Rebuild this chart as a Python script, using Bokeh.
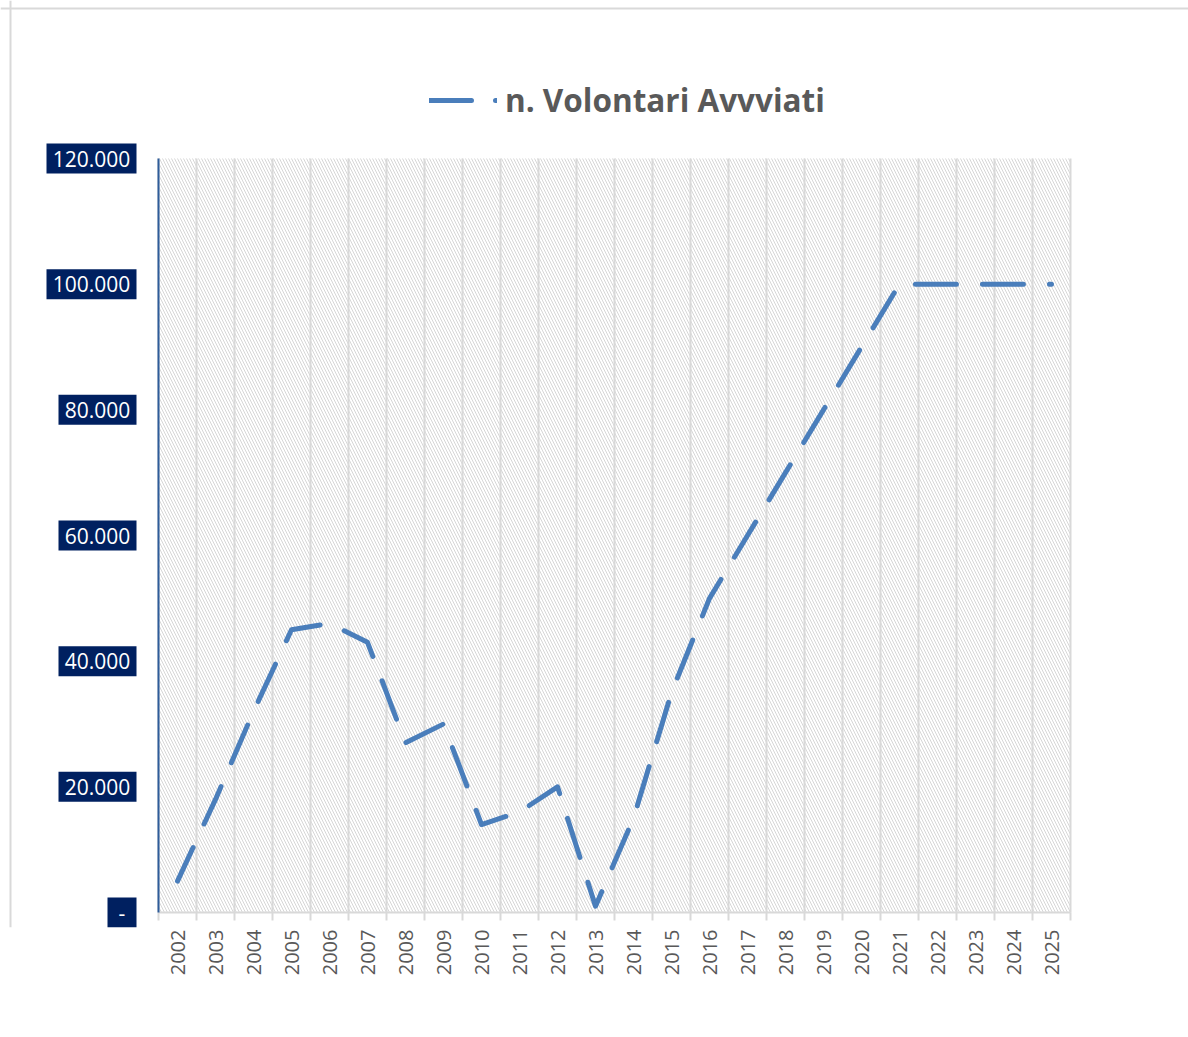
import math
from bokeh.plotting import figure
from bokeh.models import (Range1d, FixedTicker, BoxAnnotation, Legend,
                          LegendItem, Span)
from bokeh.core.properties import value
from bokeh.embed import file_html
from bokeh.resources import INLINE

# ---------------- data ----------------
years = ["2002", "2003", "2004", "2005", "2006", "2007", "2008", "2009", "2010",
         "2011", "2012", "2013", "2014", "2015", "2016", "2017", "2018", "2019",
         "2020", "2021", "2022", "2023", "2024", "2025"]
volontari = [5000, 18000, 32000, 45000, 46000, 43000, 27000, 30000, 14000,
             16000, 20000, 1000, 15000, 35000, 50000, 60000, 70000, 80000,
             90000, 100000, 100000, 100000, 100000, 100000]
y_ticks = [0, 20000, 40000, 60000, 80000, 100000, 120000]
y_tick_labels = ["-", "20.000", "40.000", "60.000", "80.000", "100.000", "120.000"]
series_name = "n. Volontari Avvviati"

# ---------------- layout constants (pixels) ----------------
W, H = 1188, 1037
PLOT_L, PLOT_R, PLOT_T, PLOT_B = 158, 1070, 158, 912
FRAME_B = 927                                   # frame extends a bit below the axis
n = len(years)
px_x = (PLOT_R - PLOT_L) / n                   # pixels per category
y_max = y_ticks[-1]
px_y = (PLOT_B - PLOT_T) / y_max               # pixels per unit
x_start = -PLOT_L / px_x
x_end = n + (W - PLOT_R) / px_x
y_start = -(FRAME_B - PLOT_B) / px_y
y_end = PLOT_B / px_y

xs = [i + 0.5 for i in range(n)]
bounds_x = list(range(n + 1))

p = figure(width=W, height=H, output_backend="svg", toolbar_location=None,
           x_range=Range1d(x_start, x_end), y_range=Range1d(y_start, y_end),
           y_axis_location=None,
           min_border_left=0, min_border_right=0, min_border_top=0,
           min_border_bottom=H - FRAME_B)
p.outline_line_color = None
p.background_fill_color = "white"
p.border_fill_color = "white"
p.xgrid.visible = False
p.ygrid.visible = False

# chart outer border (top / left)
p.add_layout(Span(location=x_start + 10 / px_x, dimension="height",
                  line_color="#D9D9D9", line_width=2))
p.add_layout(Span(location=y_end - 8 / px_y, dimension="width",
                  line_color="#D9D9D9", line_width=2))

# hatched plot area
hatch = BoxAnnotation(left=0, right=n, bottom=0, top=y_max, level="image",
                      fill_color=None, line_color=None,
                      hatch_pattern="\\", hatch_color="#D6D6D6",
                      hatch_scale=6, hatch_weight=1)
p.add_layout(hatch)

# vertical grid lines at category boundaries
p.segment(x0=bounds_x, y0=[0] * len(bounds_x), x1=bounds_x, y1=[y_max] * len(bounds_x),
          line_color="#D9D9D9", line_width=2)

# category axis line and boundary ticks (at y = 0)
p.segment(x0=[0], y0=[0], x1=[n], y1=[0], line_color="#D9D9D9", line_width=2)
p.segment(x0=bounds_x, y0=[0] * len(bounds_x), x1=bounds_x,
          y1=[-8 / px_y] * len(bounds_x), line_color="#D9D9D9", line_width=2)

# x axis: year labels only
p.xaxis.ticker = FixedTicker(ticks=xs)
p.xaxis.major_label_overrides = {x: y for x, y in zip(xs, years)}
p.xaxis.axis_line_color = None
p.xaxis.major_tick_line_color = None
p.xaxis.minor_tick_line_color = None
p.xaxis.major_tick_out = 0
p.xaxis.major_tick_in = 0
p.xaxis.major_label_orientation = math.pi / 2
p.xaxis.major_label_text_font = "Open Sans"
p.xaxis.major_label_text_font_size = "20px"
p.xaxis.major_label_text_color = "#595959"
p.xaxis.major_label_standoff = 2

# value axis line
p.segment(x0=[0], y0=[0], x1=[0], y1=[y_max], line_color="#2E5C9A", line_width=2)

# y tick labels as navy boxes
box_right = (136 - PLOT_L) / px_x
box_w = [max(29, 12 * len(t) + 6) for t in y_tick_labels]
box_cx = [box_right - w / 2 / px_x for w in box_w]
p.rect(x=box_cx, y=y_ticks, width=[w / px_x for w in box_w], height=30,
       height_units="screen", fill_color="#002060", line_color=None)
p.text(x=box_cx, y=y_ticks, text=y_tick_labels, text_align="center",
       text_baseline="middle", text_color="white",
       text_font=value("Open Sans"), text_font_size="21px")

# series line
r = p.line(xs, volontari, line_color="#4A7EBB", line_width=5,
           line_dash="41 26", line_dash_offset=4,
           line_cap="round", line_join="round")

# legend sample: same series, hidden duplicate with the legend's dash phase
r_leg = p.line(xs, volontari, line_color="#4A7EBB", line_width=5,
               line_dash="42 24", line_cap="round", visible=False)

legend = Legend(items=[LegendItem(label=series_name, renderers=[r_leg])],
                location=(429, 791 + (FRAME_B - PLOT_B)), orientation="horizontal",
                glyph_width=68, glyph_height=20, label_standoff=8,
                label_text_font="Open Sans", label_text_font_style="bold",
                label_text_font_size="31.5px", label_text_color="#595959",
                border_line_color=None, background_fill_color=None,
                inactive_fill_alpha=0, padding=10)
p.add_layout(legend, "center")

open("out.html", "w").write(file_html(p, INLINE))
